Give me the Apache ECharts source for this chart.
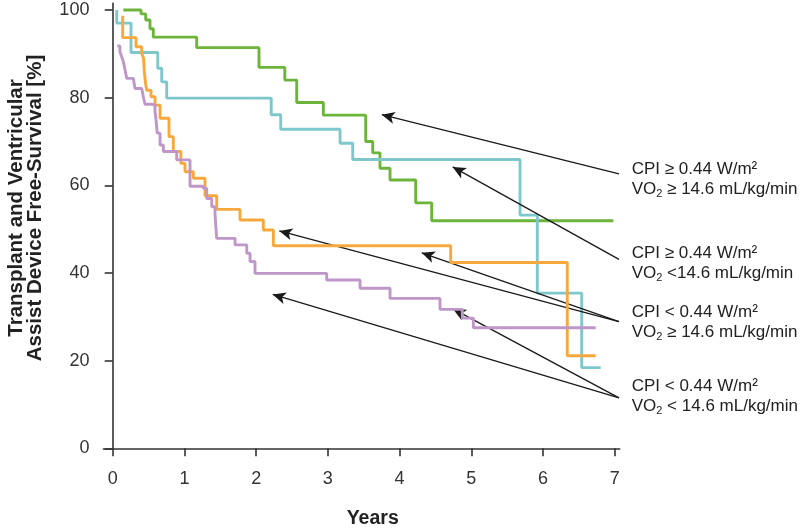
<!DOCTYPE html>
<html>
<head>
<meta charset="utf-8">
<script src="https://cdn.jsdelivr.net/npm/echarts@6/dist/echarts.min.js"></script>
<style>
html,body{margin:0;padding:0;background:#fff;}
#chart{width:800px;height:528px;}
</style>
</head>
<body>
<div id="chart"></div>
<script>
// ---------- data (years, survival %) ----------
const xTicks = [0, 1, 2, 3, 4, 5, 6, 7];
const yTicks = [0, 20, 40, 60, 80, 100];

// CPI >= 0.44, VO2 >= 14.6 (green)
const greenSteps = [
  [0.148, 100], [0.395, 99.1], [0.460, 97.7], [0.520, 95.7], [0.566, 93.8],
  [1.171, 91.4], [2.040, 86.9], [2.40, 84.0], [2.566, 78.9], [2.937, 76.0],
  [3.528, 70.0], [3.626, 67.4], [3.727, 63.9], [3.867, 61.2], [4.225, 56.0],
  [4.448, 51.9], [6.981, 51.9]
];
// CPI >= 0.44, VO2 < 14.6 (cyan)
const cyanSteps = [
  [0.056, 100], [0.056, 97.0], [0.255, 90.3], [0.628, 86.7], [0.683, 83.6],
  [0.753, 79.9], [2.210, 76.1], [2.343, 72.8], [3.170, 69.6], [3.347, 65.9],
  [5.680, 53.2], [5.921, 35.4], [6.540, 18.4], [6.805, 18.4]
];
// CPI < 0.44, VO2 >= 14.6 (orange)
const orangeSteps = [
  [0.139, 98.7], [0.139, 93.7], [0.325, 91.6], [0.404, 90.1], [0.43, 89.0],
  [0.44, 86.0], [0.46, 83.0], [0.474, 81.7], [0.534, 80.2], [0.59, 78.3],
  [0.66, 75.3], [0.785, 71.1], [0.845, 67.7], [0.95, 65.0], [1.008, 63.1],
  [1.124, 61.6], [1.287, 57.6], [1.45, 54.5], [1.775, 52.1], [2.10, 49.8],
  [2.24, 46.2], [4.713, 42.4], [6.339, 21.1], [6.735, 21.1]
];
// CPI < 0.44, VO2 < 14.6 (purple)
const purpleSteps = [
  [0.064, 91.8], [0.10, 90.5], [0.126, 89.3], [0.148, 88.2], [0.172, 86.3],
  [0.195, 84.4], [0.287, 84.0], [0.311, 82.1], [0.404, 81.7], [0.427, 80.2],
  [0.45, 78.5], [0.544, 78.3], [0.59, 76.8], [0.604, 74.9], [0.62, 71.9],
  [0.66, 69.2], [0.706, 67.7], [0.892, 65.8], [1.078, 59.8], [1.263, 59.3],
  [1.311, 57.0], [1.381, 55.1], [1.427, 53.2], [1.45, 47.9], [1.706, 46.4],
  [1.869, 44.5], [1.915, 42.6], [1.984, 39.9], [2.984, 38.4], [3.449, 36.5],
  [3.867, 34.2], [4.564, 31.7], [4.875, 29.7], [5.029, 27.5], [6.735, 27.5]
];

const groupLabels = [
  ['CPI ≥ 0.44 W/m²', 'VO{s|2} ≥ 14.6 mL/kg/min'],
  ['CPI ≥ 0.44 W/m²', 'VO{s|2} <14.6 mL/kg/min'],
  ['CPI < 0.44 W/m²', 'VO{s|2} ≥ 14.6 mL/kg/min'],
  ['CPI < 0.44 W/m²', 'VO{s|2} < 14.6 mL/kg/min']
];

// annotation arrows: [from (label side), to (curve)]
const arrows = [
  [[7.06, 62.6], [3.752, 76.1]],
  [[7.06, 43.1], [4.741, 64.2]],
  [[7.06, 28.9], [2.323, 49.6]],
  [[7.06, 28.9], [4.309, 44.6]],
  [[7.06, 11.5], [2.231, 35.1]],
  [[7.06, 11.5], [4.745, 31.8]]
];

// ---------- chart ----------
const FONT = 'Liberation Sans, Arial, Helvetica, sans-serif';
const AXIS = '#333333';
const colors = ['#6cb43a', '#7ec8cc', '#f7a83c', '#bf96c8'];
const stepSets = [greenSteps, cyanSteps, orangeSteps, purpleSteps];

const chart = echarts.init(document.getElementById('chart'), null, {renderer: 'canvas'});

const series = stepSets.map((d, i) => ({
  type: 'line',
  step: 'end',
  data: d,
  showSymbol: false,
  symbol: 'none',
  z: 3 + i,
  lineStyle: {color: colors[i], width: 2.9},
  itemStyle: {color: colors[i]},
  animation: false,
  silent: true
}));

series.push({
  type: 'line',
  data: [],
  silent: true,
  animation: false,
  z: 10,
  markLine: {
    silent: true,
    animation: false,
    symbol: ['none', 'arrow'],
    symbolSize: [9, 13],
    label: {show: false},
    lineStyle: {color: '#1a1a1a', width: 1.3, type: 'solid'},
    emphasis: {disabled: true},
    data: arrows.map(a => [{coord: a[0]}, {coord: a[1]}])
  }
});

const labelTops = [159.3, 243, 302.7, 376.7];
const graphics = groupLabels.map((lines, i) => ({
  type: 'text',
  left: 631.7,
  top: labelTops[i],
  style: {
    text: lines.join('\n'),
    font: '17px ' + FONT,
    fill: '#222',
    lineHeight: 20,
    rich: {
      s: {fontSize: 11, fontFamily: FONT, fill: '#222', padding: [9, 0, 0, 0], lineHeight: 20}
    }
  }
}));
graphics.push({
  type: 'text',
  x: 26, y: 208,
  rotation: Math.PI / 2,
  style: {
    text: 'Transplant and Ventricular\nAssist Device Free-Survival [%]',
    font: 'bold 20.5px ' + FONT,
    fill: '#222',
    align: 'center',
    verticalAlign: 'middle',
    lineHeight: 18.5
  }
});
graphics.push({
  type: 'text',
  x: 372.7, y: 519,
  style: {
    text: 'Years',
    font: 'bold 19.5px ' + FONT,
    fill: '#222',
    align: 'center',
    verticalAlign: 'middle'
  }
});

chart.setOption({
  animation: false,
  backgroundColor: '#ffffff',
  grid: {left: 103.4, right: 180.3, top: 3.4, bottom: 79.7, containLabel: false},
  xAxis: {
    type: 'value',
    min: -0.13,
    max: 7.07,
    axisLine: {show: true, onZero: true, lineStyle: {color: AXIS, width: 1.6}},
    axisTick: {show: true, customValues: xTicks, length: 8, lineStyle: {color: AXIS, width: 1.6}},
    axisLabel: {customValues: xTicks, margin: 22, fontSize: 18, fontFamily: FONT, color: '#333'},
    splitLine: {show: false}
  },
  yAxis: {
    type: 'value',
    min: 0,
    max: 101.5,
    axisLine: {show: true, onZero: true, lineStyle: {color: AXIS, width: 1.6}},
    axisTick: {show: true, customValues: yTicks, length: 8, lineStyle: {color: AXIS, width: 1.6}},
    axisLabel: {customValues: yTicks, margin: 14, fontSize: 18, fontFamily: FONT, color: '#333'},
    splitLine: {show: false}
  },
  series: series,
  graphic: graphics
});
</script>
</body>
</html>
